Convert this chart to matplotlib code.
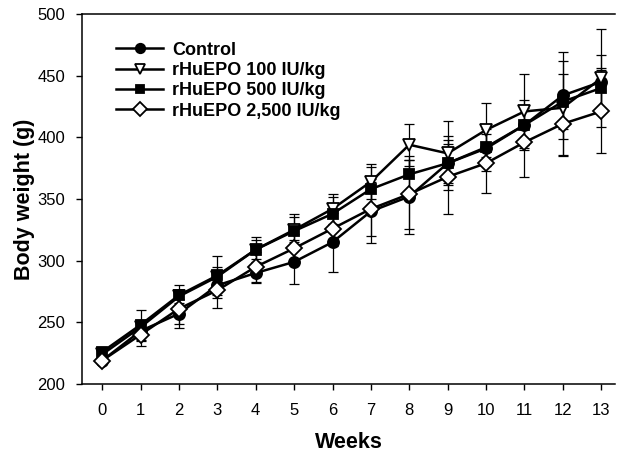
import numpy as np
import matplotlib
matplotlib.use('Agg')
import matplotlib.pyplot as plt

plt.rcParams['font.family'] = ['Liberation Sans', 'DejaVu Sans']

weeks = np.arange(14)
labels = ['Control', 'rHuEPO 100 IU/kg', 'rHuEPO 500 IU/kg', 'rHuEPO 2,500 IU/kg']

control = [219, 243, 257, 280, 290, 299, 315, 340, 352, 379, 391, 410, 434, 445]
epo100 = [224, 246, 271, 287, 309, 325, 342, 364, 394, 387, 406, 421, 424, 448]
epo500 = [226, 248, 272, 288, 309, 324, 338, 358, 370, 379, 392, 410, 429, 440]
epo2500 = [219, 240, 261, 276, 295, 310, 326, 342, 354, 368, 379, 396, 411, 421]

control_sd = [3, 8, 12, 10, 8, 18, 24, 26, 30, 22, 18, 20, 35, 22]
epo100_sd = [3, 6, 5, 8, 8, 10, 12, 14, 17, 26, 22, 30, 38, 40]
epo500_sd = [3, 12, 8, 16, 10, 14, 14, 18, 15, 16, 15, 16, 22, 16]
epo2500_sd = [3, 9, 12, 14, 12, 12, 14, 22, 28, 30, 24, 28, 26, 34]

series = [control, epo100, epo500, epo2500]
errs = [control_sd, epo100_sd, epo500_sd, epo2500_sd]
markers = ['o', 'v', 's', 'D']
faces = ['black', 'white', 'black', 'white']
msizes = [8, 9, 7.5, 8]

fig = plt.figure(figsize=(6.2, 4.58), dpi=100)
ax = fig.add_axes([0.132, 0.1616, 0.86, 0.8078])

for y, e, m, fc, ms, lab in zip(series, errs, markers, faces, msizes, labels):
    ax.errorbar(weeks, y, yerr=e, fmt='none', ecolor='black', elinewidth=0.9,
                capsize=3.5, capthick=0.9, zorder=2)
    ax.plot(weeks, y, color='black', lw=1.8, marker=m, markersize=ms,
            markerfacecolor=fc, markeredgecolor='black', markeredgewidth=1.3,
            label=lab, zorder=3)

ax.set_xlim(-0.53, 13.36)
ax.set_ylim(200, 500)
ax.set_xticks(weeks)
ax.set_yticks(np.arange(200, 501, 50))
ax.tick_params(direction='out', length=4, width=1, labelsize=12)
ax.tick_params(axis='x', pad=10)
ax.tick_params(axis='y', pad=8)
ax.spines['right'].set_visible(False)
for s in ['left', 'bottom', 'top']:
    ax.spines[s].set_linewidth(1.1)

ax.set_xlabel('Weeks', fontsize=15.5, fontweight='bold', labelpad=10)
ax.set_ylabel('Body weight (g)', fontsize=15.5, fontweight='bold', labelpad=2)

leg = ax.legend(loc='upper left', bbox_to_anchor=(0.065, 0.925), frameon=False,
                handlelength=2.6, handletextpad=0.5, labelspacing=0.18,
                borderaxespad=0, borderpad=0, markerscale=0.85,
                prop={'size': 13, 'weight': 'bold'})

fig.savefig('out.png', dpi=100)
